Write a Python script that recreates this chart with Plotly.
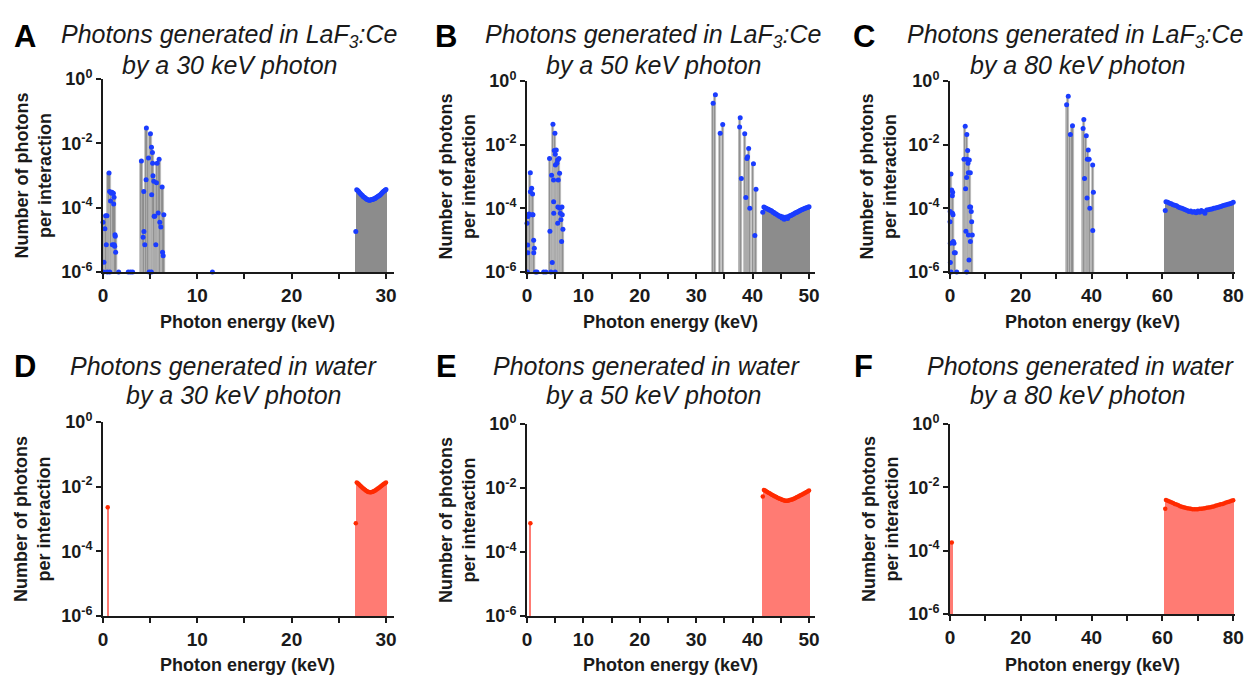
import plotly.graph_objects as go

# ---------------- DATA (photons per interaction vs energy, keV) ----------------
# Panel A: LaF3:Ce, 30 keV
a_line_e = [0.0, 0.05, 0.1, 0.2, 0.28, 0.35, 0.42, 0.45, 0.64, 0.7, 0.72, 0.8, 0.88, 0.95, 0.99,
            1.1, 1.13, 1.17, 1.19, 1.24, 1.27, 1.3, 1.34, 1.66, 2.68, 2.92, 3.14,
            4.07, 4.25, 4.32, 4.34, 4.43, 4.57, 4.6, 4.82, 4.89, 5.03, 5.13, 5.14, 5.16, 5.24,
            5.26, 5.3, 5.38, 5.42, 5.49, 5.6, 5.67, 5.74, 5.85, 5.95, 6.02, 6.13, 6.27, 6.31,
            6.38, 6.45, 11.6]
a_line_v = [3.5e-5, 1e-6, 2e-6, 2.2e-5, 5.6e-5, 7e-6, 5.6e-5, 1e-6, 1.2e-3, 3.2e-4, 1e-6, 1.6e-4,
            2.8e-4, 3.0e-4, 7e-6, 2.8e-4, 1.3e-4, 2.1e-4, 7e-6, 6.3e-6, 1.45e-5, 1.3e-5, 4.1e-6,
            1e-6, 1e-6, 1e-6, 1e-6,
            2.8e-3, 1.2e-5, 3.2e-4, 1.8e-5, 7e-6, 7.4e-4, 3.0e-2, 3.5e-3, 1e-6, 2.0e-2, 1e-6,
            7.6e-3, 2.5e-4, 5.2e-3, 2.4e-3, 9.8e-4, 6.6e-4, 5.4e-5, 5.4e-5, 7e-6, 6.0e-4, 2.4e-3,
            6.8e-5, 3.2e-3, 3.5e-5, 2.5e-5, 4.4e-4, 4.1e-6, 3.2e-6, 6.0e-5, 1e-6]
a_cont_e = [26.8, 26.9, 27.0, 27.1, 27.2, 27.3, 27.4, 27.5, 27.6, 27.7, 27.8, 27.9, 28.0, 28.1,
            28.2, 28.3, 28.4, 28.5, 28.6, 28.7, 28.8, 28.9, 29.0, 29.1, 29.2, 29.3, 29.4, 29.5,
            29.6, 29.7, 29.8, 29.9, 30.0]
a_cont_v = [1.8e-5, 3.6e-4, 3.4e-4, 3.2e-4, 2.9e-4, 2.7e-4, 2.5e-4, 2.4e-4, 2.2e-4, 2.1e-4,
            2.0e-4, 1.9e-4, 1.8e-4, 1.75e-4, 1.7e-4, 1.7e-4, 1.75e-4, 1.8e-4, 1.8e-4, 1.9e-4,
            1.9e-4, 2.0e-4, 2.1e-4, 2.2e-4, 2.3e-4, 2.4e-4, 2.5e-4, 2.7e-4, 2.9e-4, 3.1e-4,
            3.3e-4, 3.5e-4, 3.7e-4]

# Panel B: LaF3:Ce, 50 keV
b_line_e = [0.0, 0.05, 0.12, 0.14, 0.18, 0.35, 0.59, 0.6, 0.83, 0.94, 0.99, 1.06, 1.18, 1.2, 1.3,
            1.5, 1.77, 2.95, 3.36,
            4.0, 4.06, 4.24, 4.36, 4.48, 4.6, 4.7, 4.72, 4.74, 4.83, 4.95, 5.0, 5.01, 5.03, 5.19,
            5.31, 5.42, 5.44, 5.47, 5.54, 5.66, 5.78, 5.8, 5.9, 6.01, 6.13, 6.2, 6.25, 6.37,
            33.0, 33.4, 34.25, 34.7, 37.7, 37.8, 38.0, 38.6, 38.8, 39.0, 39.1, 39.3, 39.5,
            40.15, 40.4, 40.6]
b_line_v = [3.4e-5, 1e-6, 7e-6, 4e-6, 5.5e-5, 6.6e-5, 1.3e-3, 3.3e-4, 4.3e-4, 6.3e-5, 2.8e-4,
            6.3e-5, 1.0e-5, 4e-6, 5.6e-6, 1e-6, 1e-6, 1e-6, 1e-6,
            3.7e-3, 1.9e-5, 1e-6, 1.1e-3, 2e-6, 4.4e-2, 7.8e-4, 1.6e-4, 7e-5, 6.5e-3, 2.3e-2,
            1e-6, 5e-3, 2.3e-3, 6.8e-3, 2.6e-3, 3.3e-3, 3.4e-5, 1.1e-4, 7.8e-4, 3.7e-3, 1.26e-3,
            1e-4, 7e-5, 4.4e-5, 9e-6, 1.1e-4, 6.3e-5, 2.2e-5,
            0.2, 0.37, 0.023, 0.043, 0.036, 0.07, 8.7e-4, 0.022, 2.2e-4, 3.7e-3, 4.2e-3, 7.6e-3,
            1e-4, 2.5e-3, 1.4e-5, 4e-4]
b_cont_e = [41.8, 42.0, 42.2, 42.4, 42.6, 42.8, 43.0, 43.2, 43.4, 43.6, 43.8, 44.0, 44.2, 44.4,
            44.6, 44.8, 45.0, 45.2, 45.4, 45.6, 45.8, 46.0, 46.2, 46.4, 46.6, 46.8, 47.0, 47.2,
            47.4, 47.6, 47.8, 48.0, 48.2, 48.4, 48.6, 48.8, 49.0, 49.2, 49.4, 49.6, 49.8, 50.0]
b_cont_v = [7.6e-5, 1.1e-4, 1.05e-4, 1.0e-4, 9.5e-5, 9.3e-5, 8.9e-5, 8.5e-5, 8.2e-5, 7.6e-5,
            7.4e-5, 6.8e-5, 6.6e-5, 6.2e-5, 6.0e-5, 5.5e-5, 5.6e-5, 5.0e-5, 5.3e-5, 4.5e-5,
            5.0e-5, 5.3e-5, 4.8e-5, 5.5e-5, 5.8e-5, 6.0e-5, 6.3e-5, 6.5e-5, 6.9e-5, 7.2e-5,
            7.4e-5, 7.8e-5, 8.1e-5, 8.5e-5, 8.8e-5, 9.2e-5, 9.5e-5, 9.8e-5, 1.02e-4, 1.05e-4,
            1.08e-4, 1.12e-4]

# Panel C: LaF3:Ce, 80 keV
c_line_e = [0.0, 0.05, 0.08, 0.1, 0.28, 0.3, 0.47, 0.66, 0.7, 0.75, 0.85, 0.94, 1.13, 1.22, 1.5,
            1.9,
            3.95, 4.3, 4.4, 4.5, 4.7, 4.72, 4.75, 4.8, 4.99, 5.08, 5.18, 5.2, 5.36, 5.45, 5.55,
            5.74, 5.76, 5.83, 6.0, 6.12, 6.3,
            32.94, 33.4, 34.0, 34.6, 37.6, 37.8, 38.0, 38.5, 38.7, 38.8, 39.05, 39.3, 39.5,
            40.3, 40.32, 40.5]
c_line_v = [3.8e-5, 7.9e-5, 8e-6, 2e-6, 1.2e-3, 1e-6, 3.8e-4, 2.5e-4, 7e-5, 3.2e-4, 6.3e-5,
            9e-6, 8e-6, 4e-6, 4e-6, 1e-6,
            3.5e-3, 3.8e-2, 4.1e-4, 1.9e-5, 9.3e-4, 1e-6, 2.1e-2, 3.5e-3, 6.5e-3, 2.6e-3, 1.3e-3,
            1.45e-5, 2.4e-6, 3.3e-3, 1.1e-4, 1.3e-3, 9e-6, 1.1e-4, 7.9e-5, 3.8e-5, 1.45e-5,
            0.18, 0.33, 0.021, 0.039, 0.032, 0.062, 8.7e-4, 0.019, 2.1e-4, 3.5e-3, 6.8e-3,
            3.5e-3, 1e-4, 2.3e-3, 2.0e-5, 3.2e-4]
c_cont_e = [60.8, 61.0, 61.5, 62.0, 62.5, 63.0, 63.5, 64.0, 64.5, 65.0, 65.5, 66.0, 66.5, 67.0,
            67.5, 68.0, 68.5, 69.0, 69.5, 70.0, 70.5, 71.0, 71.5, 72.0, 72.5, 73.0, 73.5, 74.0,
            74.5, 75.0, 75.5, 76.0, 76.5, 77.0, 77.5, 78.0, 78.5, 79.0, 79.5, 80.0]
c_cont_v = [8.5e-5, 1.6e-4, 1.55e-4, 1.45e-4, 1.4e-4, 1.3e-4, 1.25e-4, 1.2e-4, 1.1e-4, 1.05e-4,
            1.0e-4, 9.5e-5, 9.0e-5, 8.5e-5, 8.0e-5, 8.3e-5, 7.6e-5, 8.0e-5, 7.3e-5, 8.2e-5,
            7.6e-5, 8.5e-5, 8.0e-5, 7.0e-5, 8.8e-5, 9.0e-5, 9.3e-5, 9.6e-5, 1.0e-4, 1.02e-4,
            1.06e-4, 1.1e-4, 1.15e-4, 1.2e-4, 1.25e-4, 1.3e-4, 1.35e-4, 1.4e-4, 1.45e-4, 1.55e-4]

# Panel D: water, 30 keV
d_line_e = [0.5]
d_line_v = [2.3e-3]
d_cont_e = a_cont_e
d_cont_v = [7.4e-4, 1.35e-2, 1.28e-2, 1.2e-2, 1.12e-2, 1.05e-2, 9.9e-3, 9.3e-3, 8.8e-3, 8.3e-3,
            7.9e-3, 7.5e-3, 7.2e-3, 6.9e-3, 6.8e-3, 6.7e-3, 6.7e-3, 6.8e-3, 7.0e-3, 7.2e-3,
            7.5e-3, 7.8e-3, 8.2e-3, 8.6e-3, 9.0e-3, 9.5e-3, 1.0e-2, 1.05e-2, 1.1e-2, 1.16e-2,
            1.22e-2, 1.28e-2, 1.35e-2]

# Panel E: water, 50 keV
e_line_e = [0.6]
e_line_v = [7.9e-4]
e_cont_e = b_cont_e
e_cont_v = [5.4e-3, 8.7e-3, 8.3e-3, 7.9e-3, 7.5e-3, 7.1e-3, 6.8e-3, 6.5e-3, 6.2e-3, 5.9e-3,
            5.6e-3, 5.4e-3, 5.2e-3, 5.0e-3, 4.8e-3, 4.6e-3, 4.5e-3, 4.3e-3, 4.2e-3, 4.1e-3,
            4.0e-3, 4.0e-3, 4.0e-3, 4.1e-3, 4.2e-3, 4.3e-3, 4.4e-3, 4.5e-3, 4.7e-3, 4.9e-3,
            5.1e-3, 5.3e-3, 5.5e-3, 5.8e-3, 6.0e-3, 6.3e-3, 6.6e-3, 6.9e-3, 7.2e-3, 7.5e-3,
            7.9e-3, 8.3e-3]

# Panel F: water, 80 keV
f_line_e = [0.5]
f_line_v = [1.8e-4]
f_cont_e = c_cont_e
f_cont_v = [2.1e-3, 4.0e-3, 3.8e-3, 3.6e-3, 3.4e-3, 3.2e-3, 3.0e-3, 2.85e-3, 2.7e-3, 2.55e-3,
            2.45e-3, 2.35e-3, 2.25e-3, 2.2e-3, 2.15e-3, 2.1e-3, 2.05e-3, 2.05e-3, 2.05e-3,
            2.05e-3, 2.1e-3, 2.1e-3, 2.15e-3, 2.2e-3, 2.25e-3, 2.3e-3, 2.35e-3, 2.45e-3, 2.5e-3,
            2.6e-3, 2.7e-3, 2.8e-3, 2.9e-3, 3.0e-3, 3.15e-3, 3.3e-3, 3.45e-3, 3.6e-3, 3.75e-3,
            3.9e-3]

letters = ["A", "B", "C", "D", "E", "F"]
energies = [30, 50, 80, 30, 50, 80]
materials = ["LaF<sub>3</sub>:Ce", "LaF<sub>3</sub>:Ce", "LaF<sub>3</sub>:Ce",
             "water", "water", "water"]
y_tickvals = [1e-6, 1e-4, 1e-2, 1]
y_ticktext = ["10<sup>-6</sup>", "10<sup>-4</sup>", "10<sup>-2</sup>", "10<sup>0</sup>"]
x_major = [[0, 10, 20, 30], [0, 10, 20, 30, 40, 50], [0, 20, 40, 60, 80]] * 2
x_minor_dtick = [5, 5, 10, 5, 5, 10]

# ---------------- STYLE / LAYOUT ----------------
W, H = 1246, 675
FONT = "Liberation Sans, Arial, sans-serif"
INK = "#1a1a1a"

# pixel boxes: (x_left, x_right, y_top, y_bottom)
boxes = [(103, 394, 79, 272), (527, 815, 81, 272), (950, 1235, 81, 272),
         (103, 394, 422, 616), (527, 815, 424, 616), (950, 1235, 424, 614)]
x_ranges = [[0, 30.85], [0, 51.06], [0, 80.5], [0, 30.85], [0, 51.06], [0, 80.5]]
line_widths = [0.34, 0.35, 0.6, 0.22, 0.3, 0.5]
cont_steps = [0.1, 0.2, 0.5, 0.1, 0.2, 0.5]

panels = [(a_line_e, a_line_v, a_cont_e, a_cont_v),
          (b_line_e, b_line_v, b_cont_e, b_cont_v),
          (c_line_e, c_line_v, c_cont_e, c_cont_v),
          (d_line_e, d_line_v, d_cont_e, d_cont_v),
          (e_line_e, e_line_v, e_cont_e, e_cont_v),
          (f_line_e, f_line_v, f_cont_e, f_cont_v)]

title_x1 = [229, 653, 1075, 223, 646, 1080]
title_x2 = [229, 653, 1077, 233, 653, 1077]
title_y1 = [36, 36, 36, 366, 366, 366]
title_y2 = [65, 65, 65, 395, 395, 395]
letter_x = [25, 446, 864, 25, 446, 864]
ytitle_x = [33, 457, 878, 32, 457, 880]
xtitle_x = [247, 670, 1092, 247, 670, 1092]
xtitle_y = [322, 322, 322, 665, 665, 665]

fig = go.Figure()
layout = dict(
    template="none",
    width=W, height=H, margin=dict(l=0, r=0, t=0, b=0, autoexpand=False),
    paper_bgcolor="white", plot_bgcolor="white", showlegend=False,
    barmode="overlay", bargap=0, font=dict(family=FONT, color=INK), annotations=[],
)

def px(xp):
    return xp / W

def py(yp):
    return 1 - yp / H

for i, (le, lv, ce, cv) in enumerate(panels):
    sfx = "" if i == 0 else str(i + 1)
    water = i >= 3
    bar_color = "#ff7b73" if water else "#8c8c8c"
    bar_line = "#ff8f88" if water else "#bdbdbd"
    dot_color = "#ff2a00" if water else "#1a3cff"
    xs = list(le) + list(ce)
    ys = list(lv) + list(cv)
    widths = [line_widths[i]] * len(le) + [cont_steps[i] * 1.35] * len(ce)
    edge_w = [0 if water else 0.7] * len(le) + [0] * len(ce)
    fig.add_trace(go.Bar(
        x=xs, y=ys, width=widths, xaxis="x" + sfx, yaxis="y" + sfx,
        marker=dict(color=bar_color, line=dict(color=bar_line, width=edge_w)),
        hoverinfo="x+y",
    ))
    fig.add_trace(go.Scatter(
        x=xs, y=ys, mode="markers", xaxis="x" + sfx, yaxis="y" + sfx,
        marker=dict(color=dot_color, size=5 if not water else 4.5, line=dict(width=0)),
        cliponaxis=False,
    ))
    x0, x1, y0, y1 = boxes[i]
    layout["xaxis" + sfx] = dict(
        domain=[px(x0), px(x1)], anchor="y" + sfx, range=x_ranges[i], automargin=False,
        showgrid=False, zeroline=False, showline=True, linecolor=INK, linewidth=2,
        ticks="outside", ticklen=5, tickwidth=1.6, tickcolor=INK,
        tickmode="array", tickvals=x_major[i],
        ticktext=[str(v) for v in x_major[i]],
        tickfont=dict(family=FONT, size=19, color=INK, weight="bold"),
        minor=dict(ticks="outside", ticklen=5, tickwidth=1.6, tickcolor=INK,
                   tickmode="linear", tick0=0, dtick=x_minor_dtick[i], showgrid=False),
    )
    layout["yaxis" + sfx] = dict(
        domain=[py(y1), py(y0)], anchor="x" + sfx, type="log", range=[-6, 0],
        automargin=False,
        showgrid=False, zeroline=False, showline=True, linecolor=INK, linewidth=2,
        ticks="outside", ticklen=5, tickwidth=1.6, tickcolor=INK,
        tickmode="array", tickvals=y_tickvals, ticktext=y_ticktext,
        tickfont=dict(family=FONT, size=18, color=INK, weight="bold"),
    )
    ann = layout["annotations"]
    ann.append(dict(text=letters[i], x=px(letter_x[i]), y=py(title_y1[i]),
                    xref="paper", yref="paper", showarrow=False, xanchor="center",
                    yanchor="middle",
                    font=dict(size=31, color="#000000", family=FONT, weight="bold")))
    ann.append(dict(text="Photons generated in %s" % materials[i],
                    x=px(title_x1[i]), y=py(title_y1[i]), xref="paper", yref="paper",
                    showarrow=False, xanchor="center", yanchor="middle",
                    font=dict(size=25, color=INK, family=FONT, style="italic")))
    ann.append(dict(text="by a %d keV photon" % energies[i],
                    x=px(title_x2[i]), y=py(title_y2[i]), xref="paper", yref="paper",
                    showarrow=False, xanchor="center", yanchor="middle",
                    font=dict(size=25, color=INK, family=FONT, style="italic")))
    ann.append(dict(text="Number of photons<br>per interaction",
                    x=px(ytitle_x[i]), y=py((y0 + y1) / 2), xref="paper", yref="paper",
                    showarrow=False, xanchor="center", yanchor="middle", textangle=-90,
                    font=dict(size=18, color=INK, family=FONT, weight="bold")))
    ann.append(dict(text="Photon energy (keV)",
                    x=px(xtitle_x[i]), y=py(xtitle_y[i]), xref="paper", yref="paper",
                    showarrow=False, xanchor="center", yanchor="middle",
                    font=dict(size=18, color=INK, family=FONT, weight="bold")))

fig.update_layout(**layout)
fig.write_html(
    "out.html",
    config={"displayModeBar": False},
    post_script="document.body.style.margin='0';document.body.style.overflow='hidden';",
)
